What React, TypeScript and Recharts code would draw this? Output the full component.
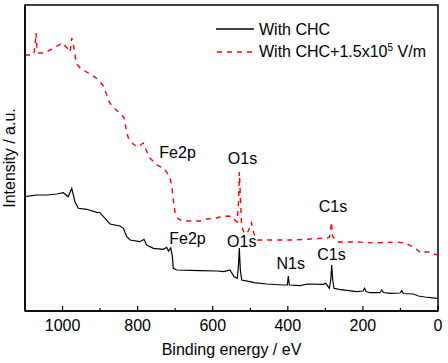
import React from 'react';
import { LineChart, Line, XAxis, YAxis, ReferenceArea, ReferenceDot, Legend } from 'recharts';

// Binding energy (eV) / intensity (a.u.)
const blackEnergy = [1100, 1069, 1042, 1015, 998, 985, 975.5, 967, 958, 935.5, 909, 900, 887, 873.5, 847, 838, 829, 820, 794, 783, 776, 758, 732, 722.5, 718, 712, 708, 705, 696, 634, 589, 570, 554, 543, 534.5, 531.3, 529.2, 526.5, 522.8, 500.7, 490, 456, 412, 401.3, 398.7, 396, 367.5, 348, 305.5, 299, 289.5, 285.7, 283.1, 280.4, 277, 263.6, 216.5, 199.7, 195.7, 191.7, 181, 154.5, 150, 145, 128, 101, 96.7, 92, 66, 58.6, 52.5, 34.6, 2.7, 0];
const blackIntensity = [114.3, 116, 116, 117, 118.3, 114.3, 122.7, 109.3, 102.7, 101.7, 98.7, 98.3, 92.7, 87, 85, 82.7, 74.3, 71, 69.3, 71.7, 66, 62.7, 61.7, 63.7, 60, 63, 56, 42.7, 41, 40.3, 40, 39.3, 41, 34.3, 32.7, 46, 63, 41, 31, 29.3, 28.3, 27, 26, 26, 35, 26, 25.3, 27, 26.7, 27.7, 22.7, 31, 46, 31, 22.7, 21.7, 19.3, 20, 22.7, 19.5, 18.3, 18.3, 21, 18.5, 17.7, 18, 20.3, 17.5, 17, 16, 15, 14, 12.7, 12.5];

const redEnergy = [1100, 1086, 1076, 1072, 1070.5, 1068, 1064, 1052, 1033, 1015, 999, 988, 980, 975.5, 971, 967, 964, 953, 936, 922, 907, 893, 884, 874, 860, 847, 836, 831, 825, 812, 799, 785, 775, 767, 749, 732, 727, 714, 709, 705, 700, 692, 679, 660, 634, 616, 589, 581, 559, 549, 541, 535, 531, 529, 526, 523, 517, 509, 502, 497, 493, 487, 481, 437, 392, 339, 295, 289, 286, 284, 281, 274, 268, 215, 170, 146, 109, 87, 66, 55, 46, 39, 24, 11, 0];
const redIntensity = [256, 256, 257, 271, 278, 261, 258, 258, 261, 265, 268, 263, 259, 273, 266, 258, 248, 243, 239, 236, 232, 226, 218, 208, 202, 198, 193, 183, 173, 167, 164, 168, 159, 153, 146, 143, 141, 134, 124, 111, 98, 92, 90, 90, 90, 92, 93, 94, 95, 94.5, 91, 89, 111, 139, 111, 84, 79, 77, 83, 89, 81, 74, 71, 71, 71, 72, 73, 74, 81, 89, 75, 71, 69, 69, 68, 68.5, 69, 68, 64, 61, 58, 59, 59, 57, 56];

const xTicks = [0, 100, 200, 300, 400, 500, 600, 700, 800, 900, 1000];
const majorTicks = [0, 200, 400, 600, 800, 1000];

const annotationText = ['Fe2p', 'Fe2p', 'O1s', 'O1s', 'N1s', 'C1s', 'C1s'];
const annotationEnergy = [693.7, 667.1, 520.6, 522.8, 392.3, 283.6, 279.6];
const annotationIntensity = [158.7, 72.3, 152.7, 70, 48, 57, 104.3];

const seriesNames = ['With CHC', 'With CHC+1.5x10', '5', ' V/m'];
const xTitle = 'Binding energy / eV';
const yTitle = 'Intensity / a.u.';

const FONT = '"Liberation Sans", Arial, Helvetica, sans-serif';

const XTick = (props: any) => {
  const { x, y, payload } = props;
  const v = payload.value;
  const major = majorTicks.includes(v);
  return (
    <g>
      <line x1={x} x2={x} y1={y} y2={y - (major ? 5 : 3)} stroke="#000" strokeWidth={1.2} />
      {major && (
        <text x={x} y={y + 20} textAnchor="middle" fontSize={16} fill="#000" fontFamily={FONT}>
          {v}
        </text>
      )}
    </g>
  );
};

const XLabel = (props: any) => {
  const vb = props.viewBox || { x: 25, y: 311, width: 413, height: 52 };
  return (
    <text x={vb.x + vb.width / 2} y={vb.y + 44} textAnchor="middle" fontSize={16} fill="#000" fontFamily={FONT}>
      {xTitle}
    </text>
  );
};

const YLabel = (props: any) => {
  const vb = props.viewBox || { x: 0, y: 5, width: 25, height: 306 };
  const cx = 14.5;
  const cy = vb.y + vb.height / 2;
  return (
    <text x={cx} y={cy} transform={`rotate(-90, ${cx}, ${cy})`} textAnchor="middle" fontSize={16} fill="#000" fontFamily={FONT}>
      {yTitle}
    </text>
  );
};

const renderLegend = () => (
  <svg width={448} height={70} style={{ display: 'block' }}>
    <line x1={216} x2={254} y1={29} y2={29} stroke="#000" strokeWidth={1.3} />
    <text x={259} y={35} fontSize={16} fill="#000" fontFamily={FONT}>{seriesNames[0]}</text>
    <line x1={217} x2={254} y1={52} y2={52} stroke="#ff0000" strokeWidth={1.4} strokeDasharray="5 5" />
    <text x={259} y={57} fontSize={16} fill="#000" fontFamily={FONT}>
      {seriesNames[1]}
      <tspan dy={-6} fontSize={10}>{seriesNames[2]}</tspan>
      <tspan dy={6} fontSize={16}>{seriesNames[3]}</tspan>
    </text>
  </svg>
);

export default function App() {
  const blackData = blackEnergy.map((e, k) => ({ e, v: blackIntensity[k] }));
  const redData = redEnergy.map((e, k) => ({ e, v: redIntensity[k] }));
  return (
    <div style={{ position: 'absolute', left: 0, top: 0 }}>
      <LineChart
        width={448}
        height={363}
        margin={{ top: 5, right: 10, bottom: 0, left: 0 }}
        style={{ fontFamily: FONT, background: '#fff' }}
      >
        <XAxis
          type="number"
          dataKey="e"
          domain={[0, 1100]}
          reversed
          allowDataOverflow
          ticks={xTicks}
          interval={0}
          tickLine={false}
          tickSize={0}
          tickMargin={0}
          tick={<XTick />}
          height={52}
          axisLine={{ stroke: '#000', strokeWidth: 1.5 }}
          label={<XLabel />}
        />
        <YAxis
          type="number"
          domain={[0, 306]}
          allowDataOverflow
          width={25}
          tick={false}
          tickLine={false}
          axisLine={{ stroke: '#000', strokeWidth: 1.5 }}
          label={<YLabel />}
        />
        <ReferenceArea x1={0} x2={1100} y1={0} y2={306} fill="none" fillOpacity={0} stroke="#000" strokeWidth={1.5} />
        <Line data={blackData} dataKey="v" type="linear" stroke="#000" strokeWidth={1.2} dot={false} activeDot={false} isAnimationActive={false} />
        <Line data={redData} dataKey="v" type="linear" stroke="#ff0000" strokeWidth={1.4} strokeDasharray="5 5" dot={false} activeDot={false} isAnimationActive={false} />
        {annotationText.map((t, k) => (
          <ReferenceDot
            key={k}
            x={annotationEnergy[k]}
            y={annotationIntensity[k]}
            r={0}
            fill="none"
            stroke="none"
            label={{ value: t, position: 'center', fontSize: 16, fill: '#000', fontFamily: FONT }}
          />
        ))}
        <Legend
          content={renderLegend}
          layout="horizontal"
          verticalAlign="middle"
          align="center"
          wrapperStyle={{ position: 'absolute', left: 0, top: 0, width: 448, height: 70 }}
        />
      </LineChart>
    </div>
  );
}
